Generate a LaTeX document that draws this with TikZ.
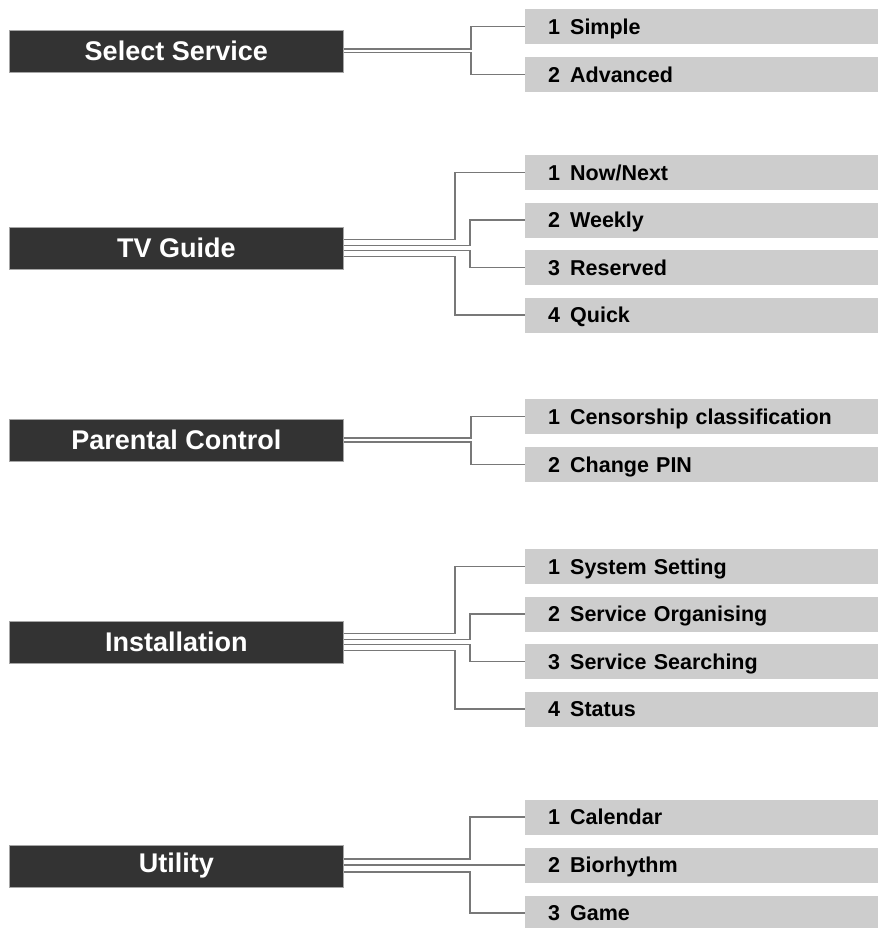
\documentclass[tikz,border=0pt]{standalone}
\usepackage{fontspec}
\setmainfont{Liberation Sans}
\usepackage{xcolor}
\usetikzlibrary{positioning}
\definecolor{darkbox}{RGB}{51,51,51}
\definecolor{lightbox}{RGB}{205,205,205}
\definecolor{linkgray}{RGB}{120,120,120}

\tikzset{
  menubox/.style={rectangle, draw=gray!70, line width=0.6pt, fill=darkbox, text=white,
    anchor=west, minimum width=334pt, minimum height=42pt, inner sep=0pt,
    font=\fontsize{27}{30}\selectfont\bfseries},
  itembox/.style={rectangle, fill=lightbox, anchor=west, minimum width=353pt,
    minimum height=35pt, inner xsep=23pt, inner ysep=0pt, text width=307pt, align=left,
    text height=19.5pt, text depth=4pt,
    font=\fontsize{21.5}{24}\selectfont\bfseries},
  link/.style={draw=linkgray, line width=1.4pt}
}
\newcommand{\entry}[2]{#1\hspace{10pt}#2}

\begin{document}
\begin{tikzpicture}[x=1pt, y=-1pt]
\useasboundingbox (0,0) rectangle (878,928);

% Select Service
\node[menubox] (ss) at (9,51) {Select Service};
\node[itembox] (ss1) at (525,26.5) {\entry{1}{Simple}};
\node[itembox] (ss2) at (525,74.5) {\entry{2}{Advanced}};
\draw[link] ([yshift=1.8pt]ss.east) -| ([xshift=-54pt]ss1.west) -- (ss1.west);
\draw[link] ([yshift=-1.8pt]ss.east) -| ([xshift=-54pt]ss2.west) -- (ss2.west);

% TV Guide
\node[menubox] (tv) at (9,248) {TV Guide};
\node[itembox] (tv1) at (525,172.5) {\entry{1}{Now/Next}};
\node[itembox] (tv2) at (525,220) {\entry{2}{Weekly}};
\node[itembox] (tv3) at (525,267.5) {\entry{3}{Reserved}};
\node[itembox] (tv4) at (525,315) {\entry{4}{Quick}};
\draw[link] ([yshift=8.5pt]tv.east) -| ([xshift=-70pt]tv1.west) -- (tv1.west);
\draw[link] ([yshift=2.5pt]tv.east) -| ([xshift=-55pt]tv2.west) -- (tv2.west);
\draw[link] ([yshift=-2.5pt]tv.east) -| ([xshift=-55pt]tv3.west) -- (tv3.west);
\draw[link] ([yshift=-8.5pt]tv.east) -| ([xshift=-70pt]tv4.west) -- (tv4.west);

% Parental Control
\node[menubox] (pc) at (9,440) {Parental Control};
\node[itembox] (pc1) at (525,416.5) {\entry{1}{Censorship classification}};
\node[itembox] (pc2) at (525,464.5) {\entry{2}{Change PIN}};
\draw[link] ([yshift=2pt]pc.east) -| ([xshift=-54pt]pc1.west) -- (pc1.west);
\draw[link] ([yshift=-2pt]pc.east) -| ([xshift=-54pt]pc2.west) -- (pc2.west);

% Installation
\node[menubox] (in) at (9,642) {Installation};
\node[itembox] (in1) at (525,566.5) {\entry{1}{System Setting}};
\node[itembox] (in2) at (525,614) {\entry{2}{Service Organising}};
\node[itembox] (in3) at (525,661.5) {\entry{3}{Service Searching}};
\node[itembox] (in4) at (525,709) {\entry{4}{Status}};
\draw[link] ([yshift=8.5pt]in.east) -| ([xshift=-70pt]in1.west) -- (in1.west);
\draw[link] ([yshift=2.5pt]in.east) -| ([xshift=-55pt]in2.west) -- (in2.west);
\draw[link] ([yshift=-2.5pt]in.east) -| ([xshift=-55pt]in3.west) -- (in3.west);
\draw[link] ([yshift=-8.5pt]in.east) -| ([xshift=-70pt]in4.west) -- (in4.west);

% Utility
\node[menubox] (ut) at (9,866) {Utility};
\node[itembox] (ut1) at (525,817) {\entry{1}{Calendar}};
\node[itembox] (ut2) at (525,865) {\entry{2}{Biorhythm}};
\node[itembox] (ut3) at (525,913) {\entry{3}{Game}};
\draw[link] ([yshift=7pt]ut.east) -| ([xshift=-55pt]ut1.west) -- (ut1.west);
\draw[link] (ut.east |- ut2.west) -- (ut2.west);
\draw[link] ([yshift=-6pt]ut.east) -| ([xshift=-55pt]ut3.west) -- (ut3.west);
\end{tikzpicture}
\end{document}
